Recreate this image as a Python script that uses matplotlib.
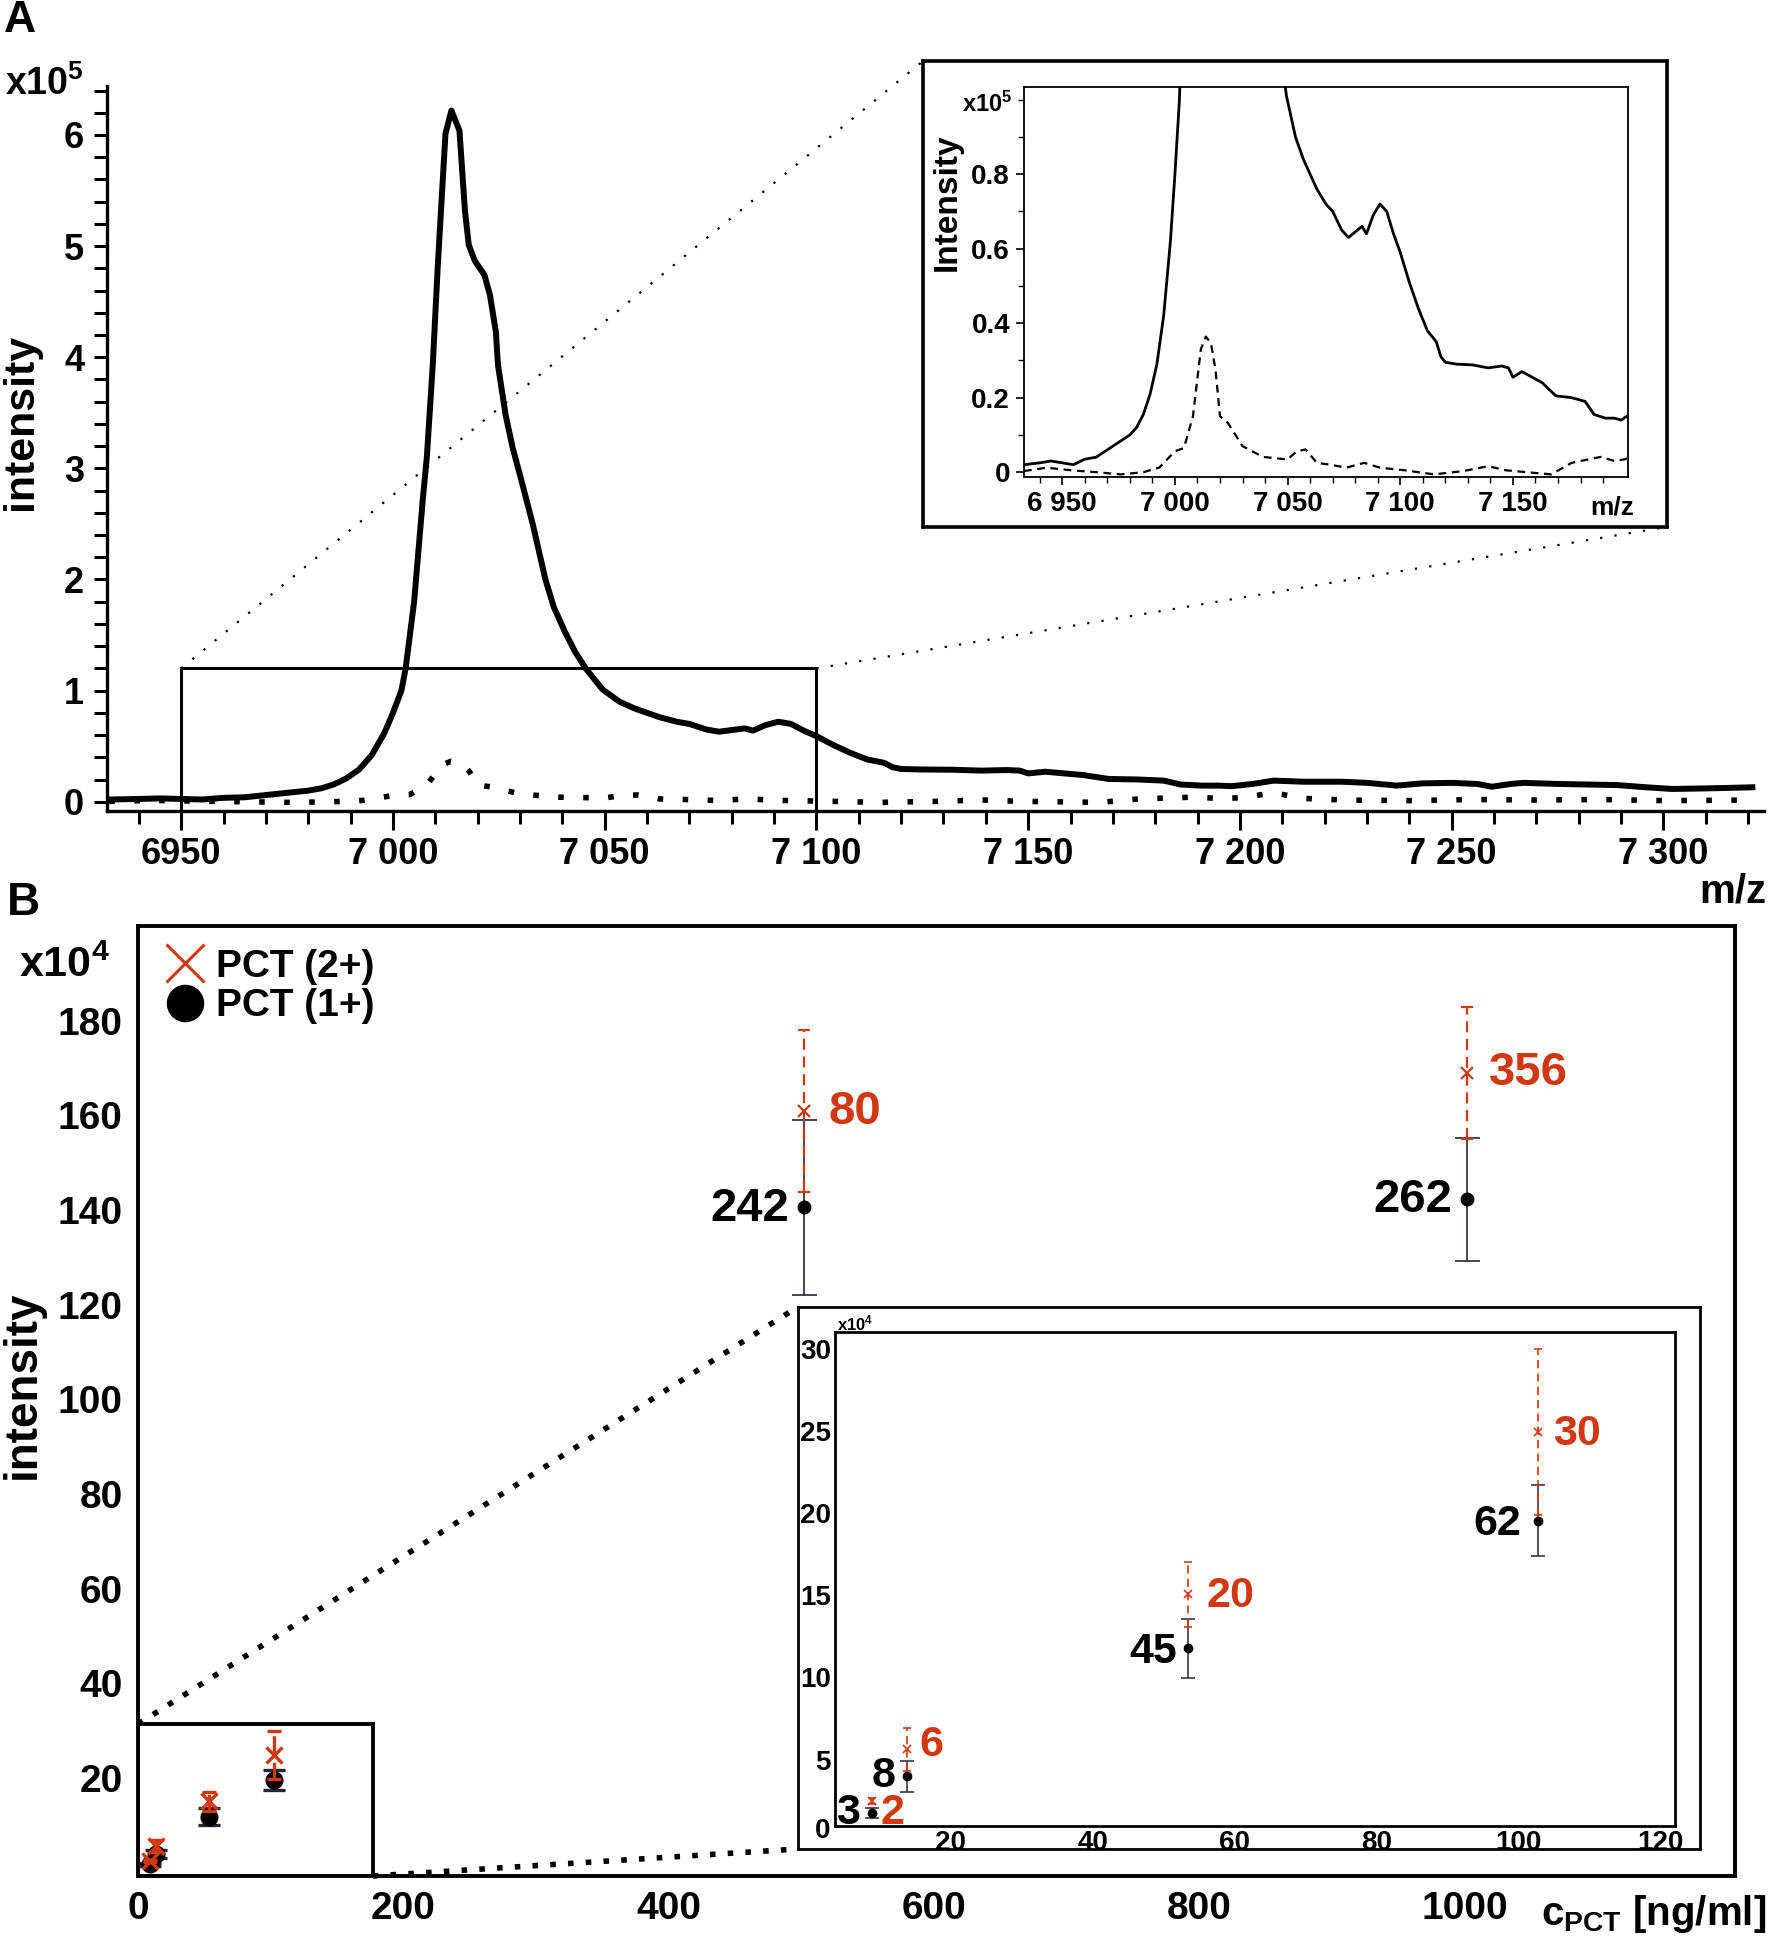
import matplotlib
matplotlib.use('Agg')
import matplotlib.pyplot as plt
from matplotlib.patches import Rectangle
from matplotlib.lines import Line2D
import numpy as np

plt.rcParams['font.family'] = ['Liberation Sans', 'DejaVu Sans']
plt.rcParams['font.weight'] = 'bold'
plt.rcParams['mathtext.fontset'] = 'custom'
plt.rcParams['mathtext.rm'] = 'Liberation Sans:bold'
plt.rcParams['mathtext.it'] = 'Liberation Sans:bold'
plt.rcParams['mathtext.bf'] = 'Liberation Sans:bold'

RED = '#d2380f'
BAR = '#25253a'

# ---- panel A: spectra (intensity in x10^5) ----
mz_pct = [6933, 6940, 6945, 6950, 6955, 6960, 6965, 6970, 6975, 6980, 6983, 6986,
          6989, 6992, 6995, 6998, 7000, 7002, 7003, 7005, 7007, 7008, 7009.4, 7010.6,
          7012.4, 7013.8, 7015.7, 7017, 7017.9, 7019.3, 7021.6, 7022.9, 7024.3, 7024.8,
          7026.6, 7028.3, 7030, 7033, 7036, 7038, 7040.6, 7043, 7045.5, 7049.5, 7053.5,
          7057, 7060, 7063, 7067, 7070, 7074, 7077, 7080, 7083, 7085, 7088, 7091, 7094,
          7097, 7100, 7104, 7108, 7112, 7116, 7118, 7120, 7125, 7132, 7139, 7145, 7148,
          7150, 7154, 7160, 7163, 7169, 7176, 7182, 7186, 7191, 7195, 7198, 7203, 7208,
          7215, 7224, 7230, 7237, 7243, 7250, 7256, 7259.5, 7264, 7267, 7275, 7282,
          7289, 7296, 7302, 7310, 7316, 7321]
int_pct = [0.02, 0.025, 0.03, 0.025, 0.02, 0.035, 0.04, 0.06, 0.08, 0.10, 0.12, 0.155,
           0.21, 0.29, 0.42, 0.62, 0.80, 1.00, 1.20, 1.8, 2.7, 3.1, 3.93, 4.83,
           6.01, 6.22, 6.04, 5.32, 5.01, 4.87, 4.74, 4.56, 4.23, 3.93,
           3.48, 3.18, 2.94, 2.5, 2.0, 1.75, 1.53, 1.35, 1.2, 1.01, 0.90,
           0.84, 0.80, 0.76, 0.72, 0.70, 0.65, 0.63, 0.645, 0.66, 0.64, 0.69, 0.72, 0.70,
           0.64, 0.59, 0.51, 0.44, 0.38, 0.35, 0.31, 0.295, 0.29, 0.288, 0.28, 0.285, 0.28,
           0.255, 0.27, 0.25, 0.24, 0.205, 0.20, 0.19, 0.155, 0.145, 0.145, 0.14, 0.16, 0.19,
           0.18, 0.18, 0.17, 0.145, 0.165, 0.17, 0.16, 0.135, 0.16, 0.17, 0.16, 0.155,
           0.15, 0.13, 0.115, 0.12, 0.125, 0.13]

mz_ctrl = [6933, 6943, 6954, 6965, 6976, 6986, 6993, 7000, 7004, 7008, 7011.5, 7013.7,
           7016, 7018, 7020, 7023.5, 7030, 7039, 7050, 7054, 7058, 7063, 7069, 7076,
           7084, 7091, 7102, 7115, 7128, 7139, 7147, 7156, 7167, 7176, 7189, 7195, 7200,
           7208, 7215, 7225, 7240, 7255, 7270, 7285, 7300, 7321]
int_ctrl = [0.003, 0.012, 0.005, 0.0, -0.006, 0.0, 0.012, 0.056, 0.065, 0.15, 0.33, 0.364,
            0.346, 0.275, 0.15, 0.132, 0.07, 0.041, 0.034, 0.056, 0.061, 0.025, 0.02, 0.012,
            0.025, 0.012, 0.005, -0.006, 0.003, 0.016, 0.005, 0.0, -0.006, 0.025, 0.041, 0.03, 0.035,
            0.08, 0.03, 0.015, 0.01, 0.02, 0.015, 0.02, 0.01, 0.015]

mz_ticks = [6950, 7000, 7050, 7100, 7150, 7200, 7250, 7300]
mz_labels = ['6950', '7 000', '7 050', '7 100', '7 150', '7 200', '7 250', '7 300']
inset_mz_ticks = [6950, 7000, 7050, 7100, 7150]
inset_mz_labels = ['6 950', '7 000', '7 050', '7 100', '7 150']

# ---- panel B: calibration (intensity in x10^4) ----
conc = [8.9, 13.8, 53.4, 102.7, 502, 1002]
pct1 = [1.74, 3.98, 11.81, 19.52, 140.7, 142.4]
pct1_lo = [1.46, 3.05, 9.97, 17.4, 122.1, 129.3]
pct1_hi = [2.04, 4.89, 13.58, 21.69, 159.0, 155.3]
pct2 = [2.49, 5.62, 15.06, 24.9, 161.0, 168.9]
pct2_lo = [2.29, 4.3, 13.07, 19.85, 143.9, 155.0]
pct2_hi = [2.67, 6.95, 17.03, 30.0, 178.1, 182.9]
n_1plus = ['3', '8', '45', '62', '242', '262']
n_2plus = ['2', '6', '20', '30', '80', '356']

# label offsets in points (black left of the dot, red right of the cross)
off_1plus = [(-9, 0), (-8, 0), (-8, -3), (-12, -2), (-11, -2), (-11, -1)]
off_2plus = [(6, -9), (9, 3), (13, -1), (11, -1), (18, -1), (16, 0)]

fig = plt.figure(figsize=(17.7, 19.43), dpi=100)


def fig_xy(ax, xy, data=True):
    tr = ax.transData if data else ax.transAxes
    return fig.transFigure.inverted().transform(tr.transform(xy))


def connector(axa, xya, axb, xyb, lw, dashes):
    p0 = fig_xy(axa, xya)
    p1 = fig_xy(axb, xyb, data=False)
    fig.add_artist(Line2D([p0[0], p1[0]], [p0[1], p1[1]], transform=fig.transFigure,
                          color='black', lw=lw, linestyle=(0, dashes),
                          dash_capstyle='butt', zorder=10))


# ================= panel A =================
axA = fig.add_axes([0.0605, 0.5828, 0.936, 0.3729])
axA.plot(mz_pct, int_pct, color='black', lw=4.3, solid_joinstyle='round')
axA.plot(mz_ctrl, int_ctrl, color='black', lw=4, linestyle=(0, (1, 3.5)))
axA.set_xlim(6932.5, 7323.7)
for s in ['top', 'right']:
    axA.spines[s].set_visible(False)
for s in ['left', 'bottom']:
    axA.spines[s].set_linewidth(2.4)
axA.set_xticks(mz_ticks)
axA.set_xticklabels(mz_labels)
axA.set_xticks(np.arange(6940, 7321, 10), minor=True)
axA.set_yticks(range(7))
axA.set_yticks(np.arange(0, 6.41, 0.2), minor=True)
axA.set_ylim(-0.08, 6.44)
axA.tick_params(axis='x', which='major', length=14, width=2.2, labelsize=26, pad=5)
axA.tick_params(axis='x', which='minor', length=9, width=2.2)
axA.tick_params(axis='y', which='both', length=9.5, width=2.2, labelsize=26, pad=7)
axA.add_patch(Rectangle((6950, -0.08), 150, 1.28, fill=False, lw=2.2, ec='black', zorder=3))

# inset frame + inset
frameA = fig.add_axes([0.5215, 0.7288, 0.4203, 0.2398])
frameA.set_xticks([])
frameA.set_yticks([])
for s in frameA.spines.values():
    s.set_linewidth(2.6)

axAi = fig.add_axes([0.5785, 0.7545, 0.3412, 0.2007])
axAi.plot(mz_pct, int_pct, color='black', lw=2)
axAi.plot(mz_ctrl, int_ctrl, color='black', lw=1.6, linestyle=(0, (3.5, 2.5)))
axAi.set_xlim(6933, 7201)
axAi.set_ylim(-0.013, 1.034)
axAi.set_xticks(inset_mz_ticks)
axAi.set_xticklabels(inset_mz_labels)
axAi.set_xticks(np.arange(6940, 7200, 10), minor=True)
axAi.set_yticks([0, 0.2, 0.4, 0.6, 0.8])
axAi.set_yticklabels(['0', '0.2', '0.4', '0.6', '0.8'])
axAi.set_yticks(np.arange(0, 1.01, 0.1), minor=True)
axAi.tick_params(which='major', length=6, width=1.2, labelsize=20, pad=4)
axAi.tick_params(which='minor', length=4, width=1.0)
for s in axAi.spines.values():
    s.set_linewidth(1.3)

connector(axA, (6950, 1.2), frameA, (0, 1), 1.6, (1, 5.5))
connector(axA, (7100, 1.2), frameA, (1, 0), 1.6, (1, 5.5))

fig.text(0.002, 1 - 20 / 1943, 'A', fontsize=32, va='center')
fig.text(0.003, 1 - 84 / 1943, r'x10$^{5}$', fontsize=27, va='center')
fig.text(0.012, 1 - 422 / 1943, 'intensity', fontsize=31,
         rotation=90, ha='center', va='center')
fig.text(0.998, 1 - 891 / 1943, 'm/z', fontsize=29, ha='right', va='center')
fig.text(947 / 1770, 1 - 202 / 1943, 'Intensity', fontsize=24,
         rotation=90, ha='center', va='center')
fig.text(962 / 1770, 1 - 104 / 1943, r'x10$^{5}$', fontsize=17, va='center')
fig.text(1612 / 1770, 1 - 507 / 1943, 'm/z', fontsize=19, ha='center', va='center')

# ================= panel B =================
axB = fig.add_axes([0.078, 0.0345, 0.9023, 0.4889])
axB.set_xlim(0, 1204)
axB.set_ylim(-0.7, 200)
for s in axB.spines.values():
    s.set_linewidth(2.8)
axB.set_xticks([0, 200, 400, 600, 800, 1000])
axB.set_yticks([20, 40, 60, 80, 100, 120, 140, 160, 180])
axB.tick_params(length=0, labelsize=28, pad=11)

conc_a = np.array(conc)
p1, p1l, p1h = np.array(pct1), np.array(pct1_lo), np.array(pct1_hi)
p2, p2l, p2h = np.array(pct2), np.array(pct2_lo), np.array(pct2_hi)


def draw_points(ax, idx, msize, xsize, lw1, lw2, cap1, cap2):
    ax.errorbar(conc_a[idx], p1[idx], yerr=[p1[idx] - p1l[idx], p1h[idx] - p1[idx]], fmt='o',
                color='black', ms=msize, ecolor=BAR, elinewidth=lw1, capsize=cap1,
                capthick=lw1, zorder=4)
    eb = ax.errorbar(conc_a[idx], p2[idx], yerr=[p2[idx] - p2l[idx], p2h[idx] - p2[idx]],
                     fmt='x', color=RED, ms=xsize, mew=lw2, ecolor=RED, elinewidth=lw2,
                     capsize=cap2, capthick=lw2, zorder=5)
    eb[2][0].set_linestyle((0, (5, 3)))


def label_points(ax, idx, size):
    for i in idx:
        ax.annotate(n_1plus[i], (conc[i], pct1[i]), xytext=off_1plus[i],
                    textcoords='offset points', ha='right', va='center', fontsize=size)
        ax.annotate(n_2plus[i], (conc[i], pct2[i]), xytext=off_2plus[i],
                    textcoords='offset points', ha='left', va='center', fontsize=size,
                    color=RED)


small = [0, 1, 2, 3]
big = [4, 5]
draw_points(axB, small, 12, 12, 2.4, 2.4, 8, 5)
draw_points(axB, big, 9, 9, 1.2, 1.6, 9, 4.5)
label_points(axB, big, 34)

axB.add_patch(Rectangle((0, -0.7), 177, 32.1, fill=False, lw=2.8, ec='black', zorder=3))

handles = [Line2D([], [], marker='x', color=RED, ms=28, mew=2.2, ls='none'),
           Line2D([], [], marker='o', color='black', ms=26, ls='none')]
axB.legend(handles, ['PCT (2+)', 'PCT (1+)'], loc='upper left', bbox_to_anchor=(0.0, 1.005),
           frameon=False, fontsize=28, handlelength=1.0, handletextpad=0.3,
           labelspacing=0.1, borderaxespad=0.3)

frameB = fig.add_axes([0.4508, 0.0484, 0.5096, 0.279])
frameB.set_xticks([])
frameB.set_yticks([])
for s in frameB.spines.values():
    s.set_linewidth(2)

axBi = fig.add_axes([0.4718, 0.0602, 0.4746, 0.2542])
axBi.set_xlim(3.7, 122)
axBi.set_ylim(0.96, 31)
axBi.set_xticks([20, 40, 60, 80, 100, 120])
axBi.set_yticks([5, 10, 15, 20, 25, 30])
axBi.tick_params(length=0, labelsize=20, pad=3)
for s in axBi.spines.values():
    s.set_linewidth(2)
draw_points(axBi, small, 6, 6, 1.1, 1.2, 5, 3)
label_points(axBi, small, 31)
fig.text(823 / 1770, 1 - 1831 / 1943, '0', fontsize=20, ha='center', va='center')
fig.text(837 / 1770, 1 - 1323 / 1943, r'x10$^{4}$', fontsize=12, va='center')

connector(axB, (0, 31.4), frameB, (0, 1), 4, (1, 2.2))
connector(axB, (177, -0.7), frameB, (0, 0), 4, (1, 2.2))

fig.text(0.004, 1 - 903 / 1943, 'B', fontsize=33, va='center')
fig.text(0.011, 1 - 966 / 1943, r'x10$^{4}$', fontsize=31, va='center')
fig.text(0.013, 1 - 1385 / 1943, 'intensity', fontsize=33,
         rotation=90, ha='center', va='center')
fig.text(0.998, 1 - 1914 / 1943, r'c$_{\mathrm{PCT}}$ [ng/ml]', fontsize=29, ha='right', va='center')

fig.savefig('out.png', dpi=100)
